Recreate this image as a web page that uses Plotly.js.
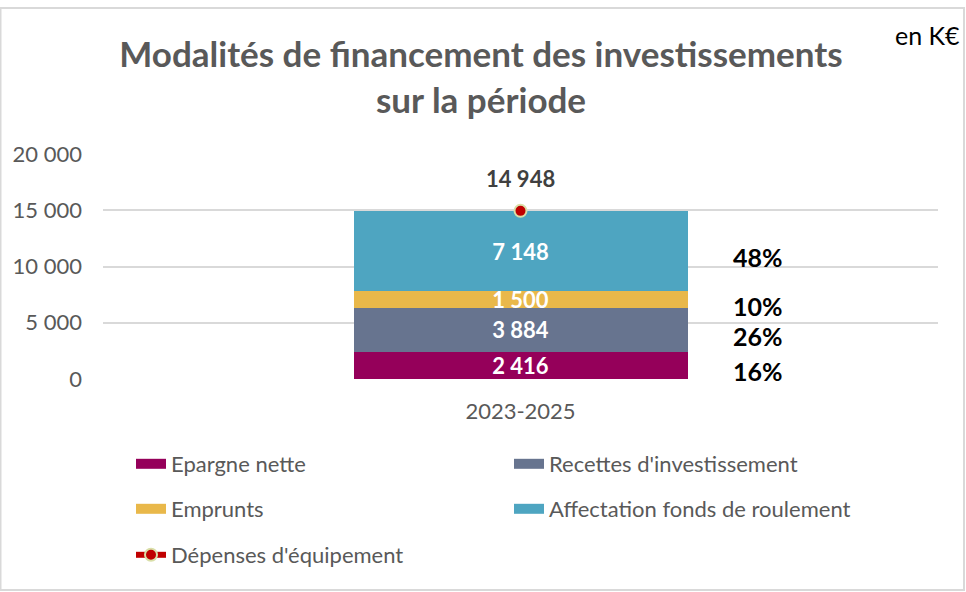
<!DOCTYPE html>
<html>
<head>
<meta charset="utf-8">
<script src="https://cdn.plot.ly/plotly-3.0.1.min.js"></script>
<style>html,body{margin:0;padding:0;background:#fff;}#chart{width:966px;height:592px;}</style>
</head>
<body>
<div id="chart"></div>
<script>
// ---- data ----
const categories = ["2023-2025"];
const seriesNames = ["Epargne nette", "Recettes d'investissement", "Emprunts", "Affectation fonds de roulement"];
const epargneNette = [2416];
const recettesInvestissement = [3884];
const emprunts = [1500];
const affectationFdr = [7148];
const depensesEquipement = [14948];
const yTickValues = [0, 5000, 10000, 15000, 20000];

const colors = ["#95005a", "#67748f", "#e9b84a", "#4ea5c1"];
const stacks = [epargneNette, recettesInvestissement, emprunts, affectationFdr];

const W = 966, H = 592, L = 103, R = 28, T = 154, B = 213;
const pw = W - L - R, ph = H - T - B;
const px = v => (v - L) / pw;
const py = v => (H - B - v) / ph;

const fontFam = "Lato, 'Open Sans', sans-serif";
const traces = [];
stacks.forEach((vals, i) => {
  traces.push({
    type: "bar", x: categories, y: vals, name: seriesNames[i],
    marker: {color: colors[i], line: {width: 0}},
    texttemplate: "<b>%{y:,d}</b>", textposition: "inside", insidetextanchor: "middle",
    textangle: 0, constraintext: "none",
    textfont: {color: "#ffffff", size: 22, family: fontFam},
    showlegend: false, hoverinfo: "name+y"
  });
});
// legend entries
const legendRows = ["legend", "legend", "legend2", "legend2"];
stacks.forEach((vals, i) => {
  traces.push({
    type: "scatter", mode: "lines", x: [null], y: [null], name: seriesNames[i],
    line: {color: colors[i], width: 14}, legend: legendRows[i], hoverinfo: "skip"
  });
});
traces.push({
  type: "scatter", mode: "lines+markers", x: categories, y: depensesEquipement,
  name: "Dépenses d'équipement", legend: "legend3",
  line: {color: "#c00000", width: 6},
  marker: {color: "#c00000", size: 12, line: {color: "#d9dfa8", width: 2}},
  hoverinfo: "name+y"
});

// annotations
const annotations = [];
const total = depensesEquipement[0];
let cum = 0;
stacks.forEach((vals) => {
  const v = vals[0];
  const mid = cum + v / 2;
  cum += v;
  annotations.push({
    xref: "paper", yref: "y", x: px(758), y: mid, yshift: -6,
    text: "<b>" + Math.round(v / total * 100) + "%</b>", showarrow: false,
    xanchor: "center", yanchor: "middle",
    font: {color: "#000000", size: 25, family: fontFam}
  });
});
annotations.push({
  xref: "x", yref: "y", x: categories[0], y: depensesEquipement[0], yshift: 32,
  text: "<b>" + depensesEquipement[0].toLocaleString("fr-FR").replace(/\s/g, " ") + "</b>",
  showarrow: false, xanchor: "center", yanchor: "middle",
  font: {color: "#404040", size: 22, family: fontFam}
});
annotations.push({
  xref: "paper", yref: "paper", x: px(962), y: py(35), text: "en K€", showarrow: false,
  xanchor: "right", yanchor: "middle", font: {color: "#000000", size: 25, family: fontFam}
});

const legendCommon = {
  orientation: "h", xref: "container", yref: "container", xanchor: "left", yanchor: "middle",
  font: {size: 22, color: "#595959", family: fontFam}, bgcolor: "rgba(0,0,0,0)",
  entrywidth: 333, entrywidthmode: "pixels", itemclick: false, itemdoubleclick: false,
  traceorder: "normal"
};

const layout = {
  width: W, height: H,
  margin: {l: L, r: R, t: T, b: B, pad: 0},
  paper_bgcolor: "#ffffff", plot_bgcolor: "#ffffff",
  separators: ", ",
  font: {family: fontFam, color: "#595959"},
  title: {
    text: "<b>Modalités de financement des investissements<br>sur la période</b>",
    font: {size: 35, color: "#595959", family: fontFam},
    xref: "container", yref: "container", x: 481 / W, y: 1 - 67 / H, xanchor: "center", yanchor: "middle"
  },
  barmode: "stack", bargap: 0.6,
  xaxis: {
    type: "category", tickfont: {size: 22, color: "#595959"}, showgrid: false,
    showline: false, zeroline: false, ticks: "", fixedrange: true, ticklabelstandoff: 17
  },
  yaxis: {
    range: [0, 20000], tickvals: yTickValues, tickformat: ",d",
    tickfont: {size: 22, color: "#595959"}, showgrid: true, gridcolor: "#d9d9d9", gridwidth: 2,
    zeroline: false, showline: false, ticks: "", ticklabelstandoff: 20, fixedrange: true
  },
  legend: Object.assign({}, legendCommon, {x: 131 / W, y: 1 - 464 / H}),
  legend2: Object.assign({}, legendCommon, {x: 131 / W, y: 1 - 509 / H}),
  legend3: Object.assign({}, legendCommon, {x: 131 / W, y: 1 - 555 / H}),
  annotations: annotations,
  shapes: [{
    type: "rect", xref: "paper", yref: "paper", x0: px(0.5), x1: px(964), y0: py(590), y1: py(8),
    line: {color: "#d9d9d9", width: 2}, fillcolor: "rgba(0,0,0,0)", layer: "below"
  }],
  showlegend: true
};

Plotly.newPlot("chart", traces, layout, {displayModeBar: false, staticPlot: true});
</script>
</body>
</html>
